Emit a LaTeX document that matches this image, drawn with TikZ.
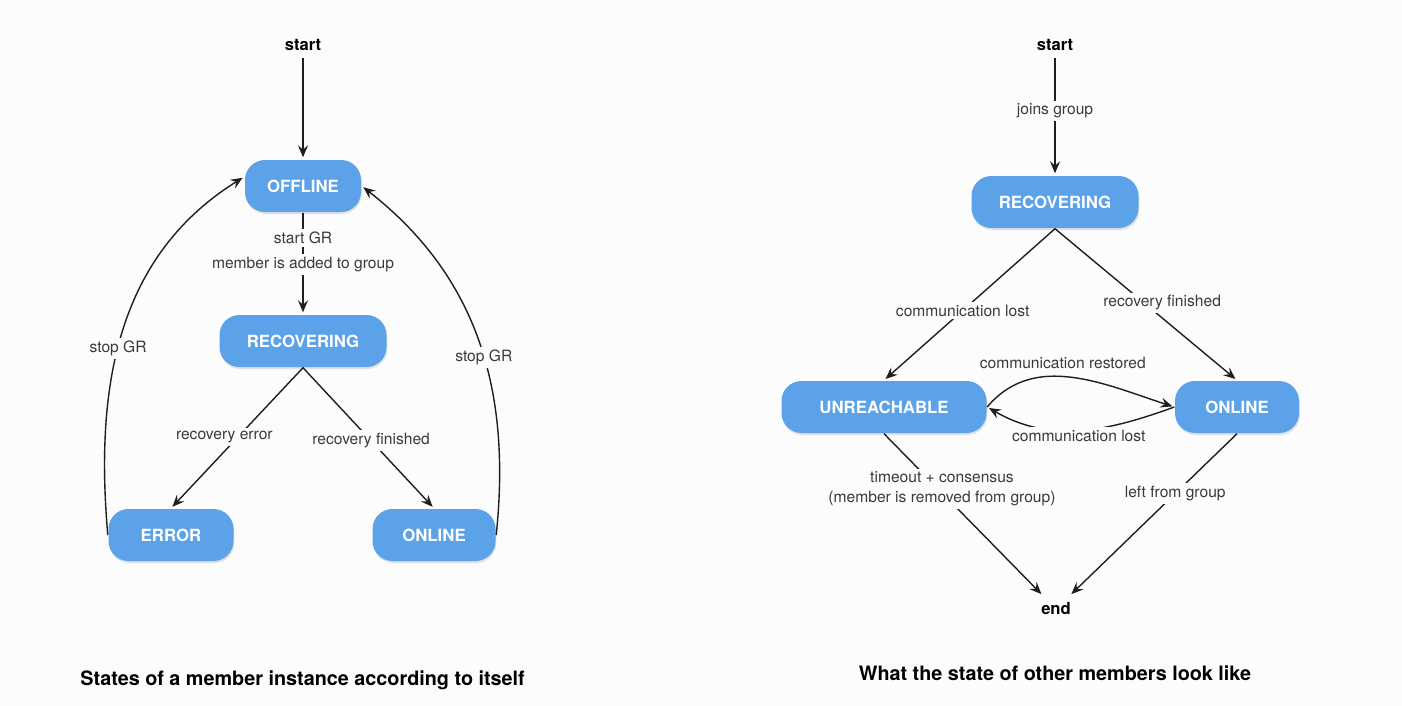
\documentclass[tikz,border=0pt]{standalone}
\usepackage{fontspec}
\setmainfont{TeX Gyre Heros}
\usepackage{tikz}
\usetikzlibrary{arrows.meta,shadows}

\definecolor{statefill}{RGB}{91,162,232}
\definecolor{pagebg}{RGB}{252,252,252}
\definecolor{labelgray}{RGB}{58,58,58}
\definecolor{linegray}{RGB}{30,30,30}

\begin{document}
\begin{tikzpicture}[x=0.5pt,y=-0.5pt,->,>={Stealth[length=6pt,width=5pt,inset=2.2pt]},
                    shorten >=1pt,line width=0.7pt,
                    every edge/.append style={draw=linegray},
                    state/.style={rectangle,rounded corners=10pt,fill=statefill,text=white,
                                  font=\fontsize{8.4}{10}\selectfont\bfseries,
                                  minimum height=26pt,minimum width=61.5pt,
                                  drop shadow={shadow xshift=0.4pt,shadow yshift=-1pt,opacity=0.22}},
                    term/.style={font=\fontsize{8.3}{10}\selectfont\bfseries},
                    lbl/.style={fill=pagebg,text=labelgray,inner sep=1.5pt,
                                font=\fontsize{7.8}{9.6}\selectfont},
                    title/.style={font=\fontsize{9.9}{12}\selectfont\bfseries}]
    \fill[pagebg] (0,0) rectangle (1402,706);

    % member looking at itself
    \node[term] (startL) at (303,45) {start};
    \node[state,minimum width=58pt] (offL) [below of=startL,node distance=70.5pt] {OFFLINE};
    \node[state,minimum width=83.5pt] (recL) [below of=offL,node distance=77.5pt] {RECOVERING};
    \node[state,minimum width=62.5pt] (errL) at (171,535) {ERROR};
    \node[state] (onL) at (434,535) {ONLINE};
    \path
        (startL) edge (offL)
        (offL) edge node[lbl,pos=0.25] {start GR}
                    node[lbl,pos=0.51] {member is added to group} (recL)
        (recL.south) edge node[lbl,pos=0.49,xshift=-7pt] {recovery error} (errL.north)
                     edge node[lbl,pos=0.52] {recovery finished} (onL.north)
        (errL.west) edge[out=95,in=212] node[lbl,pos=0.45] {stop GR} (offL.171)
        (onL.east) edge[out=84,in=322] node[lbl,pos=0.45] {stop GR} (offL.east);

    % the other members
    \node[term] (startR) at (1055,45) {start};
    \node[state,minimum width=83.5pt] (recR) at (1055,202) {RECOVERING};
    \node[state,minimum width=102.5pt] (unrR) at (884,407) {UNREACHABLE};
    \node[state,minimum width=62pt] (onR) at (1237,407) {ONLINE};
    \node[term] (endR) at (1056,609) {end};
    \path
        (startR) edge node[lbl,pos=0.45] {joins group} (recR)
        (recR.south) edge node[lbl,pos=0.54] {communication lost} (unrR.north)
                     edge node[lbl,pos=0.49,xshift=9pt] {recovery finished} (onR.north)
        (unrR.east) edge[out=50,in=162]
                    node[lbl,above=2pt,pos=0.45] {communication restored} (onR.west)
        (onR.west) edge[out=200,in=330]
                   node[lbl,pos=0.5,yshift=-3pt] {communication lost} (unrR.east)
        (unrR.south) edge node[lbl,pos=0.34,xshift=2pt,align=center]
                   {timeout + consensus\\(member is removed from group)} (endR)
        (onR.south) edge node[lbl,pos=0.37] {left from group} (endR);

    % captions
    \node[title,anchor=west] (capL) at (73,680) {States of a member instance according to itself};
    \node[title] (capR) at (1055,673) {What the state of other members look like};
\end{tikzpicture}
\end{document}
